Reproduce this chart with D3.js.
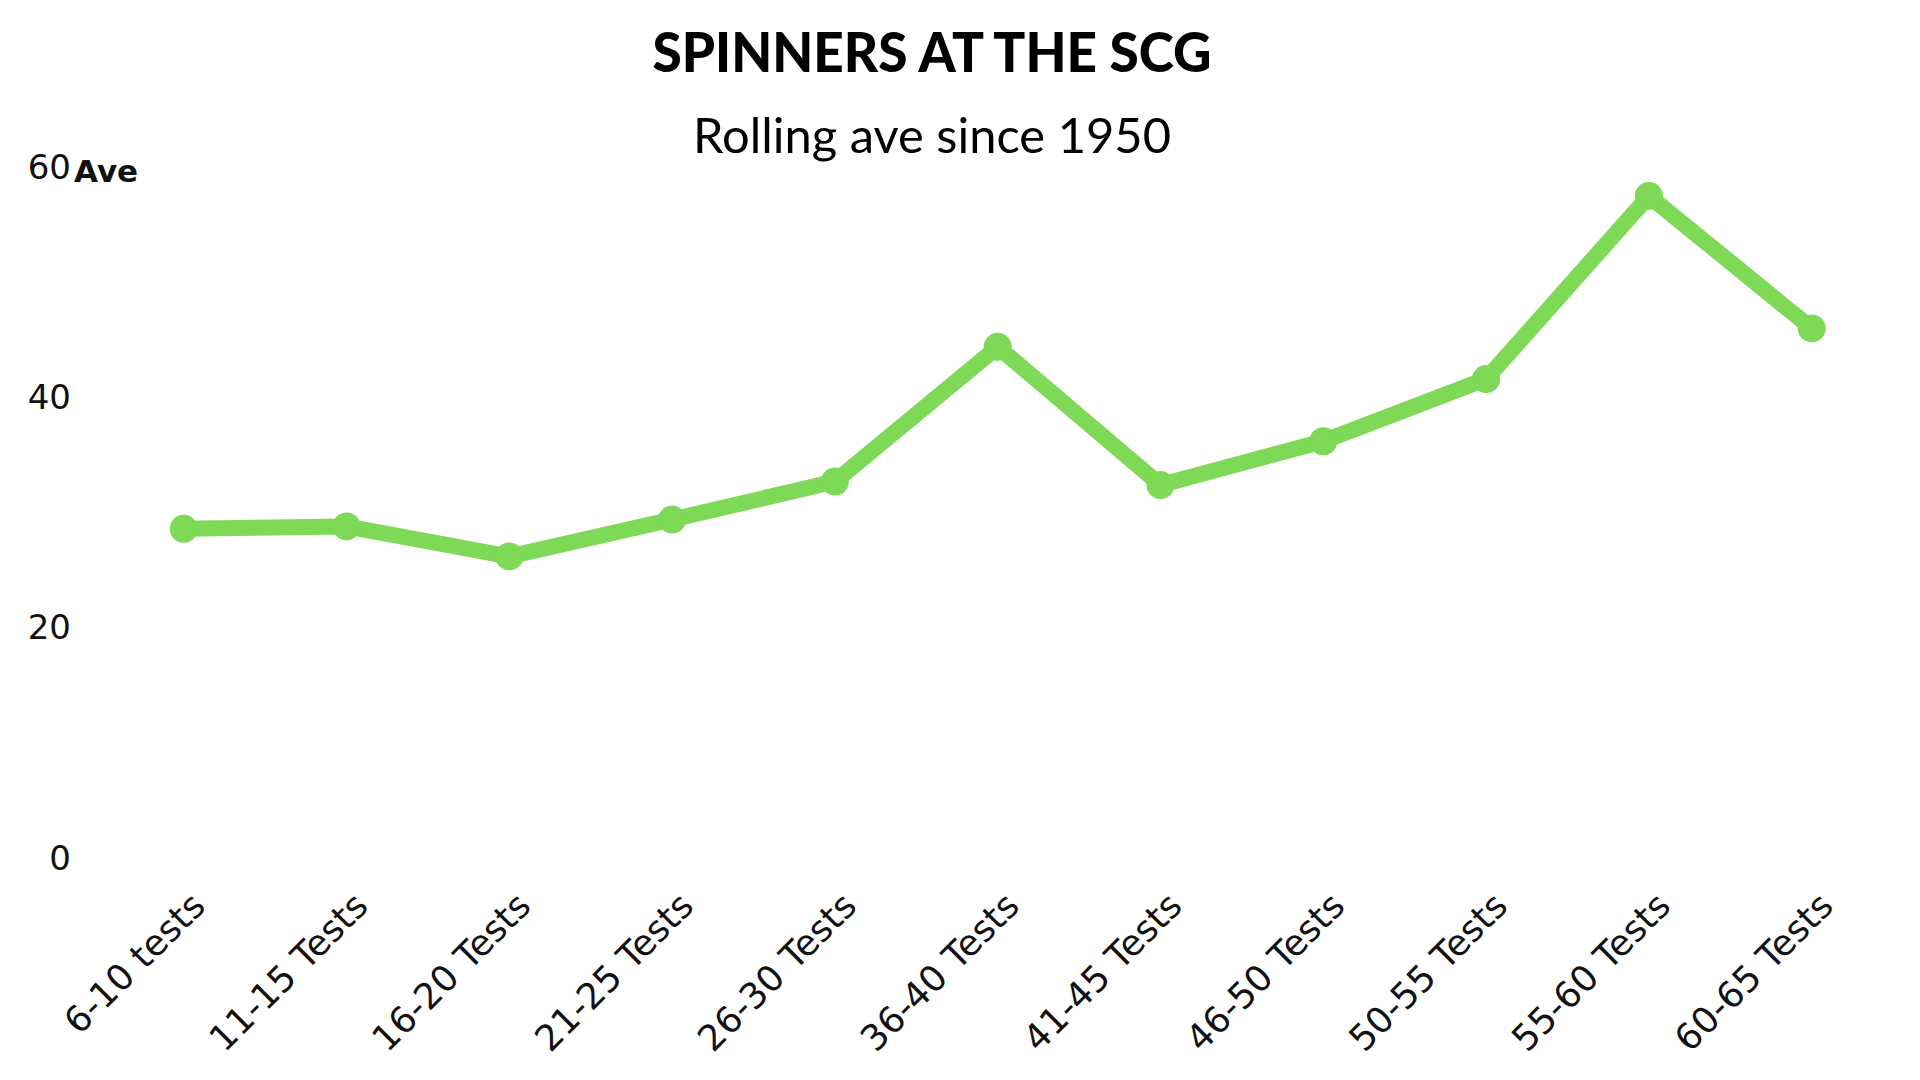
<!DOCTYPE html>
<html>
<head>
<meta charset="utf-8">
<script src="https://cdn.jsdelivr.net/npm/d3@7/dist/d3.min.js"></script>
<style>
  html, body { margin: 0; padding: 0; background: #ffffff; }
  svg { display: block; }
</style>
</head>
<body>
<svg id="chart" width="1920" height="1080"></svg>
<script>
const categories = ["6-10 tests", "11-15 Tests", "16-20 Tests", "21-25 Tests", "26-30 Tests",
  "36-40 Tests", "41-45 Tests", "46-50 Tests", "50-55 Tests", "55-60 Tests", "60-65 Tests"];
const averages = [28.5, 28.7, 26.1, 29.3, 32.6, 44.3, 32.3, 36.1, 41.5, 57.4, 45.9];
const yTicks = [0, 20, 40, 60];
const titleText = "SPINNERS AT THE SCG";
const subtitleText = "Rolling ave since 1950";
const yAxisTitle = "Ave";

const svg = d3.select("#chart");
const green = "#7ed957";

const x = d3.scalePoint().domain(categories).range([183.7, 1811.7]);
const y = d3.scaleLinear().domain([0, 60]).range([857, 166]);

// Title
svg.append("text")
  .attr("x", 932).attr("y", 72)
  .attr("text-anchor", "middle")
  .attr("font-family", "Lato, sans-serif")
  .attr("font-weight", 900)
  .attr("font-size", 56)
  .attr("textLength", 559)
  .attr("lengthAdjust", "spacingAndGlyphs")
  .attr("fill", "#000")
  .text(titleText);

svg.append("text")
  .attr("x", 932).attr("y", 153)
  .attr("text-anchor", "middle")
  .attr("font-family", "Lato, sans-serif")
  .attr("font-size", 48)
  .attr("textLength", 478)
  .attr("lengthAdjust", "spacingAndGlyphs")
  .attr("fill", "#000")
  .text(subtitleText);

// Y axis (labels only)
const yAxis = d3.axisLeft(y).tickValues(yTicks).tickSize(0).tickPadding(0);
const gy = svg.append("g").attr("transform", "translate(71,0)").call(yAxis);
gy.select(".domain").remove();
gy.selectAll("text")
  .attr("font-family", "'DejaVu Sans', sans-serif")
  .attr("font-size", 34)
  .attr("fill", "#111")
  .attr("dy", "0.36em");

svg.append("text")
  .attr("x", 74).attr("y", y(60))
  .attr("dy", "0.5em")
  .attr("font-family", "'DejaVu Sans', sans-serif")
  .attr("font-weight", "bold")
  .attr("font-size", 31)
  .attr("fill", "#111")
  .text(yAxisTitle);

// X axis labels
const xAxis = d3.axisBottom(x).tickSize(0).tickPadding(0);
const gx = svg.append("g").attr("transform", "translate(0,908)").call(xAxis);
gx.select(".domain").remove();
gx.selectAll("text")
  .attr("font-family", "'DejaVu Sans', sans-serif")
  .attr("font-size", 36)
  .attr("fill", "#111")
  .attr("text-anchor", "end")
  .attr("dy", "0")
  .attr("y", 0)
  .attr("transform", "translate(23,0) rotate(-45)");

// Line
const line = d3.line()
  .x((d, i) => x(categories[i]))
  .y(d => y(d));

svg.append("path")
  .datum(averages)
  .attr("d", line)
  .attr("fill", "none")
  .attr("stroke", green)
  .attr("stroke-width", 16)
  .attr("stroke-linejoin", "round");

svg.selectAll("circle.pt")
  .data(averages)
  .enter().append("circle")
  .attr("class", "pt")
  .attr("cx", (d, i) => x(categories[i]))
  .attr("cy", d => y(d))
  .attr("r", 14)
  .attr("fill", green);
</script>
</body>
</html>
